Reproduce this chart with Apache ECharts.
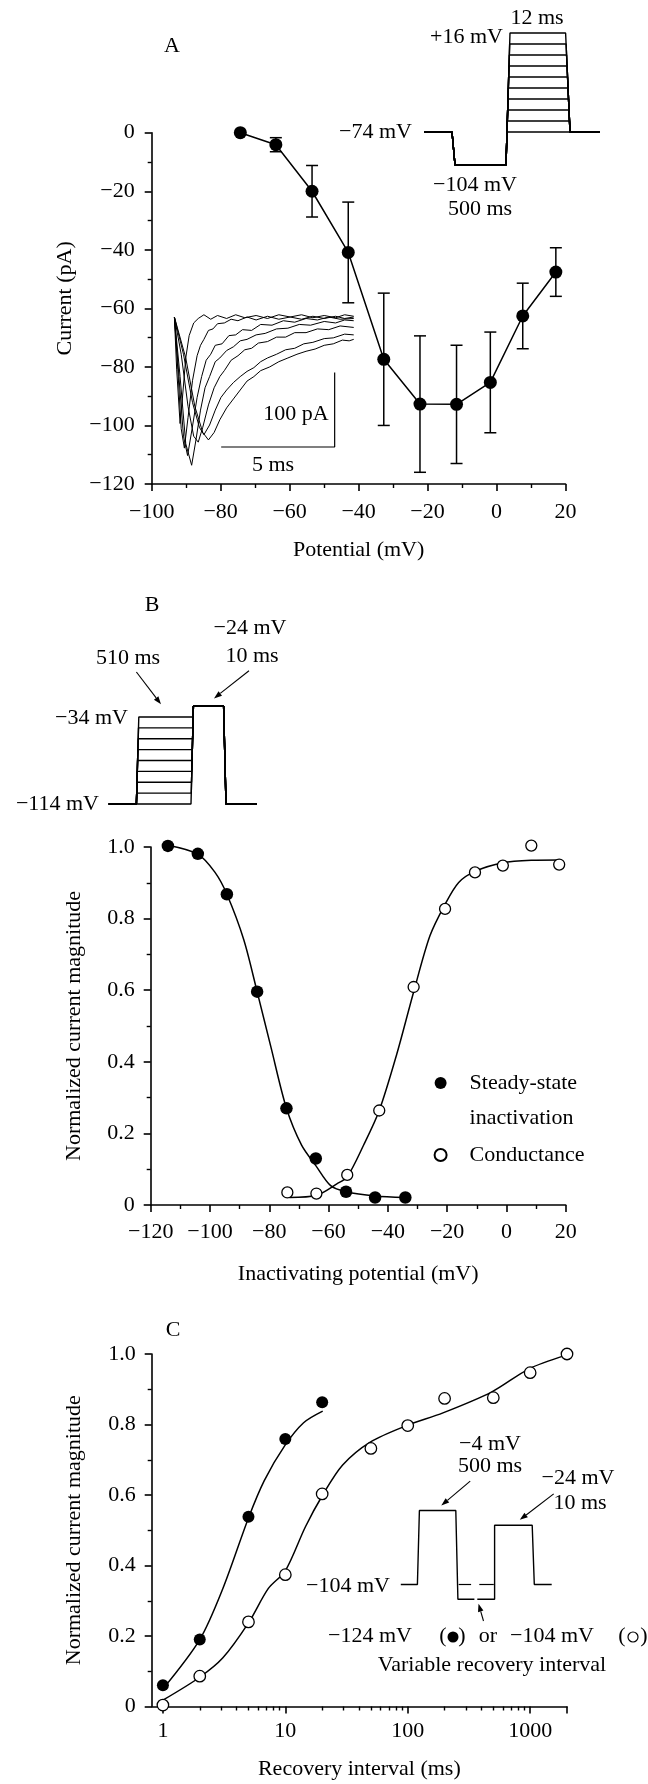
<!DOCTYPE html>
<html>
<head>
<meta charset="utf-8">
<script src="https://cdn.jsdelivr.net/npm/echarts@6/dist/echarts.min.js"></script>
<style>
  html, body { margin: 0; padding: 0; background: #fff; }
  #chart { width: 648px; height: 1784px; }
</style>
</head>
<body>
<div id="chart"></div>
<script>
// ---- panel A: current-voltage relation ----
const ivPotential = [-74.3, -64, -53.5, -43, -32.7, -22.2, -11.6, -1.8, 7.6, 17.2];
const ivCurrent = [0, -4.1, -20, -40.9, -77.4, -92.7, -92.8, -85.3, -62.6, -47.6];
const ivError = [0, 2.4, 8.8, 17.2, 22.6, 23.3, 20.2, 17.2, 11.2, 8.3];

// inset current traces (ms, pA)
const traces = [
  [[0,0],[0.1,-70],[0.25,-143],[0.35,-110],[0.5,-55],[0.65,-25],[0.85,-8],[1.05,-2],[1.3,3],[1.6,-3],[1.9,2],[2.3,-2],[2.7,3],[3.1,-1],[3.6,2],[4.1,-2],[4.6,3],[5.1,0],[5.6,3],[6.1,-1],[6.6,2],[7.1,-1],[7.5,3],[7.9,1]],
  [[0,0],[0.15,-70],[0.3,-150],[0.44,-176],[0.6,-135],[0.8,-85],[1.0,-52],[1.15,-38],[1.3,-30],[1.5,-18],[1.7,-16],[1.9,-9],[2.2,-8],[2.5,-3],[2.8,-5],[3.2,0],[3.6,-4],[4.1,1],[4.6,-3],[5.1,0],[5.6,-3],[6.1,1],[6.6,-2],[7.1,1],[7.5,-2],[7.9,0]],
  [[0,0],[0.2,-80],[0.4,-160],[0.58,-186],[0.78,-150],[1.0,-108],[1.2,-80],[1.4,-58],[1.6,-50],[1.8,-38],[2.1,-36],[2.4,-25],[2.7,-24],[3.0,-17],[3.4,-18],[3.8,-10],[4.3,-11],[4.8,-5],[5.3,-7],[5.8,-2],[6.3,-4],[6.8,0],[7.3,-3],[7.9,-2]],
  [[0,0],[0.25,-80],[0.5,-170],[0.76,-199],[0.95,-165],[1.15,-125],[1.35,-95],[1.55,-80],[1.8,-60],[2.0,-55],[2.3,-45],[2.6,-40],[2.9,-32],[3.2,-30],[3.6,-24],[4.0,-22],[4.5,-16],[5.0,-15],[5.5,-10],[6.0,-11],[6.6,-6],[7.1,-8],[7.5,-4],[7.9,-5]],
  [[0,0],[0.3,-50],[0.6,-120],[0.85,-160],[1.05,-168],[1.25,-148],[1.5,-118],[1.75,-95],[2.0,-80],[2.2,-72],[2.5,-58],[2.8,-52],[3.1,-44],[3.4,-42],[3.7,-35],[4.1,-33],[4.5,-27],[4.9,-27],[5.3,-21],[5.8,-21],[6.3,-16],[6.8,-17],[7.3,-12],[7.9,-14]],
  [[0,0],[0.4,-50],[0.8,-115],[1.1,-148],[1.3,-158],[1.55,-145],[1.8,-125],[2.05,-108],[2.3,-98],[2.6,-88],[2.9,-80],[3.2,-73],[3.5,-68],[3.8,-60],[4.1,-55],[4.5,-50],[4.9,-44],[5.3,-42],[5.7,-36],[6.1,-34],[6.6,-29],[7.0,-28],[7.5,-23],[7.9,-24]],
  [[0,0],[0.5,-55],[0.9,-120],[1.25,-155],[1.5,-165],[1.75,-155],[2.0,-138],[2.3,-122],[2.6,-110],[2.9,-98],[3.2,-86],[3.5,-80],[3.8,-72],[4.2,-67],[4.6,-60],[5.0,-55],[5.4,-50],[5.8,-46],[6.2,-43],[6.6,-38],[7.0,-36],[7.4,-31],[7.7,-32],[7.9,-30]]
];
const scaleBarT = [2.06, 7.06, 7.06];
const scaleBarI = [-174.5, -174.5, -74.5];

// voltage protocol A (schematic time, mV)
const protoALevels = [16, 6, -4, -14, -24, -34, -44, -54, -64, -74];
const protoAHold = -74, protoAPre = -104;

// ---- panel B: steady-state inactivation and conductance ----
const ssPotential = [-114.2, -104.1, -94.3, -84.1, -74.2, -64.3, -54.1, -44.3, -34.1];
const ssValue = [1.003, 0.981, 0.868, 0.596, 0.27, 0.13, 0.037, 0.021, 0.021];
const gPotential = [-73.9, -64.1, -53.7, -42.9, -31.3, -20.7, -10.6, -1.2, 8.4, 17.8];
const gValue = [0.035, 0.032, 0.084, 0.264, 0.609, 0.827, 0.929, 0.948, 1.004, 0.951];
const ssFitV = [-114.2, -104.1, -98.3, -94.3, -88.6, -84.1, -79.5, -74.2, -69.1, -64.3, -59.3, -54.1, -44.3, -34.2];
const ssFitY = [1.005, 0.98, 0.929, 0.868, 0.741, 0.596, 0.443, 0.27, 0.167, 0.11, 0.054, 0.037, 0.025, 0.021];
const gFitV = [-73.2, -64.1, -57.2, -53.7, -48.2, -42.9, -37.0, -31.3, -25.8, -20.7, -16.1, -10.6, -1.2, 8.4, 17.8];
const gFitY = [0.021, 0.027, 0.059, 0.079, 0.167, 0.264, 0.421, 0.595, 0.752, 0.84, 0.901, 0.932, 0.956, 0.963, 0.964];
const protoBLevels = [-34, -44, -54, -64, -74, -84, -94, -104, -114];

// ---- panel C: recovery from inactivation ----
const recFilledT = [1, 2, 5, 10, 20];
const recFilled = [0.06, 0.19, 0.538, 0.759, 0.863];
const recOpenT = [1, 2, 5, 10, 20, 50, 100, 200, 500, 1000, 2000];
const recOpen = [0.004, 0.086, 0.24, 0.374, 0.603, 0.732, 0.797, 0.874, 0.876, 0.947, 1.0];
const recFilledFitT = [1, 2, 3.09, 5, 6.73, 9.9, 14.1, 20.2];
const recFilledFitY = [0.05, 0.19, 0.335, 0.535, 0.641, 0.74, 0.805, 0.838];
const recOpenFitT = [1, 2, 3.09, 5, 7.27, 10, 14.6, 20.2, 29.4, 49.4, 98, 194, 483, 980, 1941];
const recOpenFitY = [0.018, 0.083, 0.138, 0.237, 0.335, 0.385, 0.51, 0.6, 0.685, 0.75, 0.797, 0.833, 0.892, 0.958, 0.996];
const logMajorTicks = [1, 10, 100, 1000, 2000];
const logLabels = [1, 10, 100, 1000];
const logMinorTicks = [2, 3, 4, 5, 6, 7, 8, 9, 20, 30, 40, 50, 60, 70, 80, 90, 200, 300, 400, 500, 600, 700, 800, 900];
// protocol C pieces (schematic time, mV)
const protoCSolid = [
  [[0, -104], [16.6, -104], [18.6, -4], [55, -4], [57.1, -124], [73.6, -124]],
  [[76.5, -124], [93.8, -124], [93.8, -24], [131.4, -24], [133.5, -104], [150.9, -104]]
];
const protoCDashed = [
  [[57.9, -104], [70.3, -104]],
  [[78.5, -104], [93, -104]]
];

const zip = (a, b) => a.map((v, i) => [v, b[i]]);
const font = 'Liberation Serif';
const black = '#000';
const minus = v => String(v).replace('-', '\u2212');
const oneDec = v => (v === 0 ? '0' : v.toFixed(1));

const axisLine = { show: true, onZero: false, lineStyle: { color: black, width: 1.6 } };
const axisTick = { show: true, length: 7, lineStyle: { color: black, width: 1.6 } };
const minorTick = { show: true, splitNumber: 2, length: 4, lineStyle: { color: black, width: 1.4 } };
const labelStyle = { fontFamily: font, fontSize: 22, color: black };

function valueAxis(gridIndex, min, max, interval, name, nameGap, fmt, margin, extra) {
  return Object.assign({
    type: 'value', gridIndex, min, max, interval,
    name, nameLocation: 'middle', nameGap,
    nameTextStyle: { fontFamily: font, fontSize: 22, color: black },
    axisLine, axisTick, minorTick,
    axisLabel: Object.assign({ margin, formatter: fmt }, labelStyle),
    splitLine: { show: false }, minorSplitLine: { show: false }
  }, extra || {});
}
const hidden = (gridIndex, min, max) => ({ type: 'value', gridIndex, min, max, show: false });
const grid = (left, top, width, height) => ({ left, top, width, height, containLabel: false, outerBoundsMode: 'none' });

function plainLine(xi, yi, data, width, extra) {
  return Object.assign({
    type: 'line', xAxisIndex: xi, yAxisIndex: yi, data,
    showSymbol: false, symbol: 'none', clip: false, silent: true,
    lineStyle: { color: black, width: width || 1.5 }
  }, extra || {});
}
function dots(name, xi, yi, data, size, open) {
  return {
    type: 'scatter', name, xAxisIndex: xi, yAxisIndex: yi, data, clip: false, z: 4,
    symbol: 'circle', symbolSize: size,
    itemStyle: open ? { color: '#fff', borderColor: black, borderWidth: 1.3, opacity: 1 }
                    : { color: black, opacity: 1 }
  };
}

// protocol shapes from the voltage levels
const protoASeries = protoALevels.map(v => plainLine(2, 2, [
  [0, protoAHold], [28, protoAHold], [31, protoAPre], [82, protoAPre],
  [82 + 4 * (v - protoAPre) / 120, v], [141.6 + 4.4 * (16 - v) / 90, v],
  [146, protoAHold], [176, protoAHold]
], 1.4));
const protoBSeries = protoBLevels.map(v => plainLine(3, 3, [
  [0, -114], [27.7, -114], [27.7 + 2.4 * (v + 114) / 80, v],
  [82.3 + 2.4 * (v + 114) / 90, v], [84.7, -24], [114.9, -24], [117.3, -114], [148.3, -114]
], 1.4));
const protoCSeries = protoCSolid.map(d => plainLine(7, 6, d, 1.4))
  .concat(protoCDashed.map(d => plainLine(7, 6, d, 1.2)));

const errorBars = {
  type: 'custom', xAxisIndex: 0, yAxisIndex: 0, silent: true,
  data: ivPotential.map((v, i) => [v, ivCurrent[i] - ivError[i], ivCurrent[i] + ivError[i]])
    .filter((d, i) => ivError[i] > 0),
  encode: { x: 0, y: [1, 2] },
  renderItem: (params, api) => {
    const lo = api.coord([api.value(0), api.value(1)]);
    const hi = api.coord([api.value(0), api.value(2)]);
    const w = 6;
    const st = { stroke: black, lineWidth: 1.5 };
    return {
      type: 'group', children: [
        { type: 'line', shape: { x1: lo[0], y1: lo[1], x2: hi[0], y2: hi[1] }, style: st },
        { type: 'line', shape: { x1: lo[0] - w, y1: lo[1], x2: lo[0] + w, y2: lo[1] }, style: st },
        { type: 'line', shape: { x1: hi[0] - w, y1: hi[1], x2: hi[0] + w, y2: hi[1] }, style: st }
      ]
    };
  }
};

// annotations
const txt = (text, x, y, align) => ({
  type: 'text', x, y, z: 50, silent: true,
  style: { text, fill: black, font: '22px "Liberation Serif"', align: align || 'center', verticalAlign: 'middle' }
});
function arrow(x1, y1, x2, y2) {
  const a = Math.atan2(y2 - y1, x2 - x1), L = 8, W = 2.8;
  const bx = x2 - L * Math.cos(a), by = y2 - L * Math.sin(a);
  return [
    { type: 'line', z: 50, silent: true, shape: { x1, y1, x2: bx, y2: by }, style: { stroke: black, lineWidth: 1.1 } },
    { type: 'polygon', z: 50, silent: true, shape: { points: [[x2, y2],
      [bx + W * Math.sin(a), by - W * Math.cos(a)], [bx - W * Math.sin(a), by + W * Math.cos(a)]] },
      style: { fill: black } }
  ];
}

const graphics = [
  txt('A', 172, 46), txt('12 ms', 537, 18), txt('+16 mV', 503, 37, 'right'),
  txt('\u221274 mV', 412, 132, 'right'), txt('\u2212104 mV', 475, 185), txt('500 ms', 480, 209),
  txt('100 pA', 296, 414), txt('5 ms', 273, 465),
  txt('B', 152, 605), txt('\u221224 mV', 250, 628), txt('10 ms', 252, 656), txt('510 ms', 128, 658),
  txt('\u221234 mV', 128, 718, 'right'), txt('\u2212114 mV', 99, 804, 'right'),
  txt('C', 173, 1330), txt('\u22124 mV', 490, 1444), txt('500 ms', 490, 1466),
  txt('\u221224 mV', 578, 1478), txt('10 ms', 580, 1503), txt('\u2212104 mV', 390, 1586, 'right'),
  txt('\u2212124 mV', 328, 1636, 'left'), txt('(', 443, 1636), txt(')', 462, 1636),
  txt('or', 488, 1636), txt('\u2212104 mV', 510, 1636, 'left'), txt('(', 622, 1636), txt(')', 644, 1636),
  txt('Variable recovery interval', 492, 1665),
  { type: 'circle', z: 50, silent: true, shape: { cx: 453, cy: 1637, r: 5.5 }, style: { fill: black } },
  { type: 'circle', z: 50, silent: true, shape: { cx: 633, cy: 1637, r: 5 }, style: { fill: '#fff', stroke: black, lineWidth: 1.2 } }
].concat(arrow(136.4, 672, 161, 704.3), arrow(249, 670.7, 214, 698.4),
  arrow(470.2, 1481.2, 441.3, 1505.5), arrow(553.7, 1493.9, 519.8, 1519.8), arrow(483.5, 1621, 478.5, 1603.7));

const chart = echarts.init(document.getElementById('chart'));
const option = {
  animation: false,
  backgroundColor: '#fff',
  textStyle: { fontFamily: font, color: black },
  grid: [
    grid(151.7, 132.7, 413.8, 351.3),   // 0 A
    grid(174.4, 302.1, 181.6, 163.9),   // 1 A traces
    grid(424, 33, 176, 132),            // 2 A protocol
    grid(108.7, 706.1, 148.3, 97.9),    // 3 B protocol
    grid(150.7, 847, 415, 358),         // 4 B
    grid(151.7, 1354, 415.3, 352.5),    // 5 C
    grid(400.8, 1510.5, 150.9, 88.8)    // 6 C protocol
  ],
  xAxis: [
    valueAxis(0, -100, 20, 20, 'Potential (mV)', 55, minus, 17),
    hidden(1, 0, 8),
    hidden(2, 0, 176),
    hidden(3, 0, 148.3),
    valueAxis(4, -120, 20, 20, 'Inactivating potential (mV)', 58, minus, 16),
    {
      type: 'log', gridIndex: 5, logBase: 10, min: 0.81, max: 2000, position: 'bottom',
      name: 'Recovery interval (ms)', nameLocation: 'middle', nameGap: 52,
      nameTextStyle: { fontFamily: font, fontSize: 22, color: black },
      axisLine, axisTick: Object.assign({ customValues: logMajorTicks }, axisTick),
      axisLabel: Object.assign({ margin: 14, customValues: logLabels, formatter: v => String(Math.round(v)) }, labelStyle),
      minorTick: { show: false }, splitLine: { show: false }
    },
    {
      type: 'log', gridIndex: 5, logBase: 10, min: 0.81, max: 2000, position: 'bottom',
      axisLine: { show: false }, axisLabel: { show: false },
      axisTick: { show: true, customValues: logMinorTicks, length: 4, lineStyle: { color: black, width: 1.4 } },
      minorTick: { show: false }, splitLine: { show: false }
    },
    hidden(6, 0, 150.9)
  ],
  yAxis: [
    valueAxis(0, -120, 0, 20, 'Current (pA)', 75, minus, 17,
      { nameTextStyle: { fontFamily: font, fontSize: 22, color: black, padding: [0, 0, 0, 20] } }),
    hidden(1, -200, 20),
    hidden(2, -104, 16),
    hidden(3, -114, -24),
    valueAxis(4, 0, 1, 0.2, 'Normalized current magnitude', 65, oneDec, 16),
    valueAxis(5, 0, 1, 0.2, 'Normalized current magnitude', 66, oneDec, 16),
    hidden(6, -124, -4)
  ],
  legend: {
    left: 433.6, top: 1030.5, orient: 'vertical', padding: 0,
    itemWidth: 48, itemHeight: 12, itemGap: 2, selectedMode: false,
    data: ['Steady-state inactivation', 'Conductance'],
    // blank first line keeps the marker level with "Steady-state"
    formatter: n => (n === 'Conductance' ? n : ' \nSteady-state\ninactivation'),
    textStyle: { fontFamily: font, fontSize: 22, color: black, lineHeight: 35 }
  },
  graphic: graphics,
  series: [
    errorBars,
    {
      type: 'line', name: 'I-V', xAxisIndex: 0, yAxisIndex: 0, data: zip(ivPotential, ivCurrent),
      symbol: 'circle', symbolSize: 13, itemStyle: { color: black },
      lineStyle: { color: black, width: 1.5 }, z: 3
    },
    ...traces.map(t => plainLine(1, 1, t, 1)),
    plainLine(1, 1, zip(scaleBarT, scaleBarI), 1.2),
    ...protoASeries,
    ...protoBSeries,
    plainLine(4, 4, zip(ssFitV, ssFitY), 1.5, { smooth: 0.3 }),
    plainLine(4, 4, zip(gFitV, gFitY), 1.5, { smooth: 0.3 }),
    dots('Steady-state inactivation', 4, 4, zip(ssPotential, ssValue), 12.5, false),
    dots('Conductance', 4, 4, zip(gPotential, gValue), 11, true),
    plainLine(5, 5, zip(recFilledFitT, recFilledFitY), 1.5, { smooth: 0.3 }),
    plainLine(5, 5, zip(recOpenFitT, recOpenFitY), 1.5, { smooth: 0.3 }),
    dots('Recovery at \u2212124 mV', 5, 5, zip(recFilledT, recFilled), 12, false),
    dots('Recovery at \u2212104 mV', 5, 5, zip(recOpenT, recOpen), 11.5, true),
    ...protoCSeries
  ]
};
chart.setOption(option);
</script>
</body>
</html>
